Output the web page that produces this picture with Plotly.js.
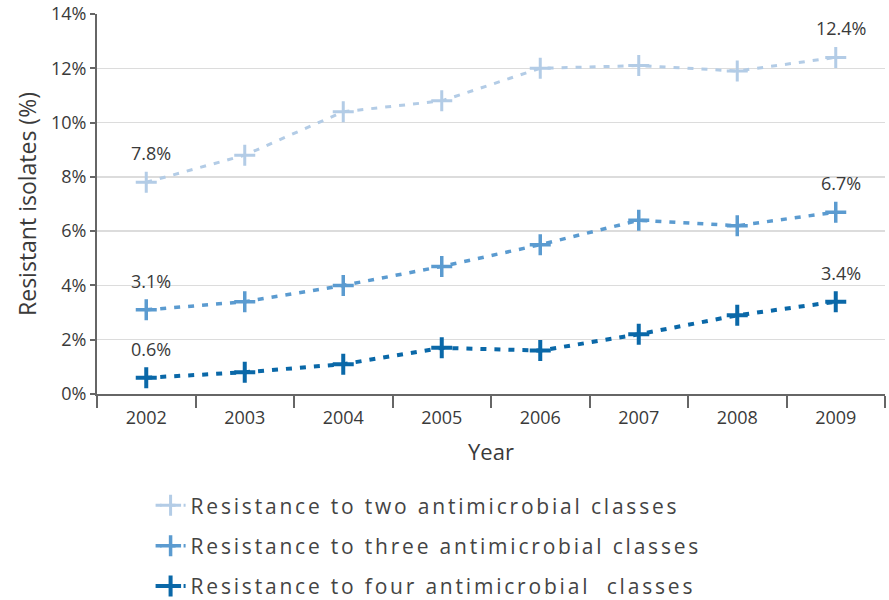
<!DOCTYPE html>
<html>
<head>
<meta charset="utf-8">
<script src="https://cdn.plot.ly/plotly-3.0.1.min.js"></script>
<style>html,body{margin:0;padding:0;background:#fff;}#chart{width:889px;height:600px;}
#chart .legendtext{letter-spacing:2.8px;}
#chart .legend .scrollbox{clip-path:none !important;}
#chart .legend .bg{display:none;}</style>
</head>
<body>
<div id="chart"></div>
<script>
const years = ['2002','2003','2004','2005','2006','2007','2008','2009'];
const two = [7.8, 8.8, 10.4, 10.8, 12.0, 12.1, 11.9, 12.4];
const three = [3.1, 3.4, 4.0, 4.7, 5.5, 6.4, 6.2, 6.7];
const four = [0.6, 0.8, 1.1, 1.7, 1.6, 2.2, 2.9, 3.4];
const seriesNames = ['Resistance to two antimicrobial classes','Resistance to three antimicrobial classes','Resistance to four antimicrobial  classes'];
const colors = ['#b3cce6','#5b9bd0','#0a68a8'];
const yTicks = [0,2,4,6,8,10,12,14];
const yTickText = ['0%','2%','4%','6%','8%','10%','12%','14%'];

const fontFam = '"Open Sans", "DejaVu Sans", sans-serif';
const textColor = '#3a3a3a';

function mk(y, i, lw, mw){
  return {
    x: years, y: y, name: seriesNames[i], type: 'scatter', mode: 'lines+markers',
    legendgroup: 'g'+i,
    line: {color: colors[i], width: lw, dash: '6px,8px'},
    marker: {symbol: 'cross-thin', size: 15, color: colors[i], line: {color: colors[i], width: mw}}
  };
}
const data = [mk(two,0,3,3), mk(three,1,3.5,3.5), mk(four,2,4,4)];

function lbl(i, y, txt){
  return {xref: 'x', yref: 'y', x: i, y: y, text: txt, showarrow: false, yshift: 29, xshift: 5,
    font: {family: fontFam, size: 18, color: textColor}};
}
const annotations = [
  lbl(0, two[0], two[0].toFixed(1)+'%'),
  lbl(0, three[0], three[0].toFixed(1)+'%'),
  lbl(0, four[0], four[0].toFixed(1)+'%'),
  lbl(7, two[7], two[7].toFixed(1)+'%'),
  lbl(7, three[7], three[7].toFixed(1)+'%'),
  lbl(7, four[7], four[7].toFixed(1)+'%')
];

const layout = {
  width: 889, height: 600,
  margin: {l: 97, r: 4, t: 14, b: 206, autoexpand: false},
  paper_bgcolor: '#fff', plot_bgcolor: '#fff',
  font: {family: fontFam, color: textColor},
  showlegend: true,
  legend: {x: 0.068, xanchor: 'left', y: -0.24, yanchor: 'top', orientation: 'v',
    font: {family: fontFam, size: 21, color: '#444'}, tracegroupgap: 10, traceorder: 'grouped'},
  xaxis: {
    type: 'category', range: [-0.5, 7.5], tickson: 'boundaries',
    ticks: 'outside', ticklen: 12, tickwidth: 2, tickcolor: '#666',
    showline: true, linecolor: '#666', linewidth: 2, showgrid: false, zeroline: false,
    ticklabelstandoff: 6,
    tickfont: {family: fontFam, size: 18, color: textColor},
    title: {text: 'Year', font: {family: fontFam, size: 22, color: textColor}, standoff: 17}
  },
  yaxis: {
    range: [0, 14], tickvals: yTicks, ticktext: yTickText,
    ticks: 'outside', ticklen: 5, tickwidth: 2, tickcolor: '#666',
    showline: true, linecolor: '#666', linewidth: 2,
    showgrid: true, gridcolor: '#dcdcdc', gridwidth: 1.5, zeroline: false,
    tickfont: {family: fontFam, size: 18, color: textColor},
    title: {text: 'Resistant isolates (%)', font: {family: fontFam, size: 23, color: textColor}, standoff: 8}
  },
  annotations: annotations
};
Plotly.newPlot('chart', data, layout, {displayModeBar: false, staticPlot: true});
</script>
</body>
</html>
